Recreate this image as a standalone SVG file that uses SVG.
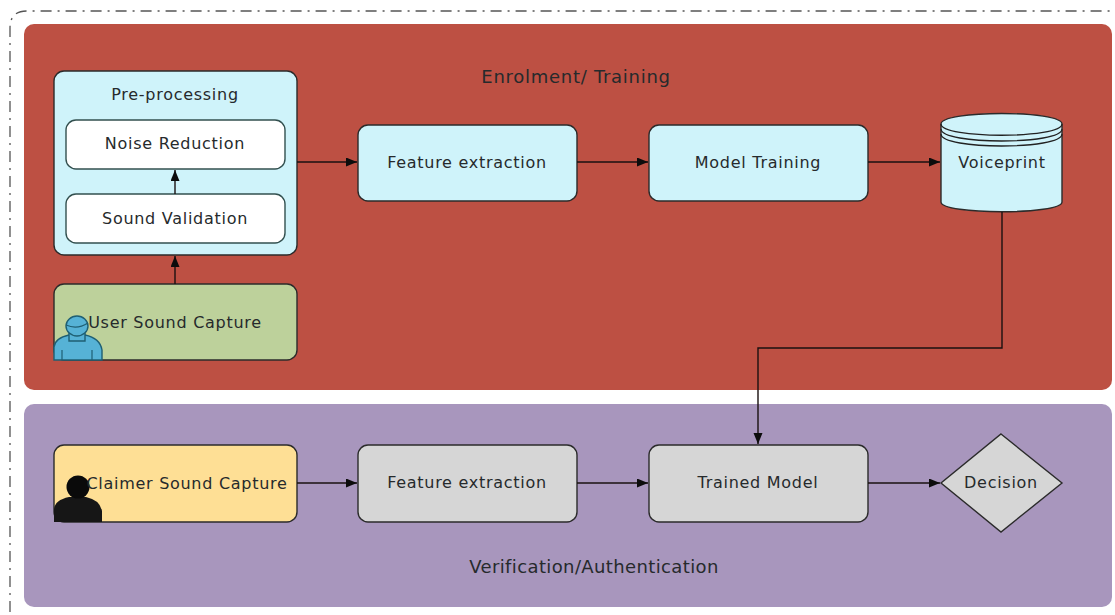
<svg xmlns="http://www.w3.org/2000/svg" width="1115" height="615" viewBox="0 0 1115 615">
<style>
text{font-family:"DejaVu Sans",sans-serif;font-size:16px;letter-spacing:.72px;fill:#262a2c;text-anchor:middle;dominant-baseline:central}
.t{font-size:18px}
.n{stroke:#2b2b2b;stroke-width:1.4}
.c{fill:#cff3fa}.g{fill:#d6d6d6}.w{fill:#fff;stroke:#33504f;stroke-width:1.4}
.l{fill:none;stroke:#1a1010;stroke-width:1.4;marker-end:url(#a)}
</style>
<defs><marker id="a" markerWidth="12" markerHeight="10" refX="11" refY="4.5" orient="auto" markerUnits="userSpaceOnUse"><path d="M0 0L11 4.5L0 9z" fill="#0c0c0c"/></marker></defs>
<rect width="1115" height="615" fill="#fff"/>
<path d="M10 612V28Q10 11 27 11H1115" fill="none" stroke="#555" stroke-width="1.3" stroke-dasharray="11 6 2 6"/>
<g id="enrolment"><rect x="24" y="24" width="1088" height="366" rx="10" fill="#bd5043"/><text class="t" x="576" y="76">Enrolment/ Training</text></g>
<g id="verification"><rect x="24" y="404" width="1088" height="203" rx="10" fill="#a896bd"/><text class="t" x="594" y="566" style="letter-spacing:.38px">Verification/Authentication</text></g>
<g id="preprocessing"><rect class="n c" x="54" y="71" width="243" height="184" rx="10"/><text x="175" y="94">Pre-processing</text></g>
<g id="noise"><rect class="w" x="66" y="120" width="219" height="49" rx="10"/><text x="175" y="143">Noise Reduction</text></g>
<g id="validation"><rect class="w" x="66" y="194" width="219" height="49" rx="10"/><text x="175" y="218">Sound Validation</text></g>
<g id="user"><rect class="n" x="54" y="284" width="243" height="76" rx="10" fill="#bdd19b"/>
<path d="M54 360V347Q55 338 69 335H85Q100 338 102 350V360Z" fill="#56b2d6" stroke="#1f5f73" stroke-width="1.4"/><path d="M69 331V341H85V331" fill="#56b2d6" stroke="#1f5f73" stroke-width="1.4"/><ellipse cx="77" cy="326" rx="11" ry="10" fill="#56b2d6" stroke="#1f5f73" stroke-width="1.4"/><path d="M66 325Q77 330 88 323M62 360V350M92 360V350" fill="none" stroke="#1f5f73" stroke-width="1.2"/><text x="175" y="322">User Sound Capture</text></g>
<g id="fe1"><rect class="n c" x="358" y="125" width="219" height="76" rx="10"/><text x="467" y="162">Feature extraction</text></g>
<g id="mt"><rect class="n c" x="649" y="125" width="219" height="76" rx="10"/><text x="758" y="162">Model Training</text></g>
<g id="voiceprint"><path class="n c" d="M941 124C941 110 1062 110 1062 124V202C1062 215 941 215 941 202Z"/><path d="M941 124C941 139 1062 139 1062 124M941 129C941 145 1062 145 1062 129M941 134C941 150 1062 150 1062 134" fill="none" stroke="#222" stroke-width="1.3"/><text x="1002" y="162">Voiceprint</text></g>
<g id="claimer"><rect class="n" x="54" y="445" width="243" height="77" rx="10" fill="#fedf95"/>
<path d="M54 522V509Q55 500 69 497H86Q100 500 102 511V522Z" fill="#161616"/><circle cx="78" cy="487" r="11.5" fill="#0a0a0a"/><text x="187" y="483">Claimer Sound Capture</text></g>
<g id="fe2"><rect class="n g" x="358" y="445" width="219" height="77" rx="10"/><text x="467" y="482">Feature extraction</text></g>
<g id="tm"><rect class="n g" x="649" y="445" width="219" height="77" rx="10"/><text x="758" y="482">Trained Model</text></g>
<g id="decision"><path class="n g" d="M1001 434L1062 483L1001 532L941 483Z"/><text x="1001" y="482">Decision</text></g>
<g id="connectors">
<path class="l" d="M175 194V170"/><path class="l" d="M175 284V256"/><path class="l" d="M297 162H357"/><path class="l" d="M577 162H648"/><path class="l" d="M868 162H940"/><path class="l" d="M1002 212V348H758V444"/><path class="l" d="M297 483H357"/><path class="l" d="M577 483H648"/><path class="l" d="M868 483H940"/>
</g>
</svg>
